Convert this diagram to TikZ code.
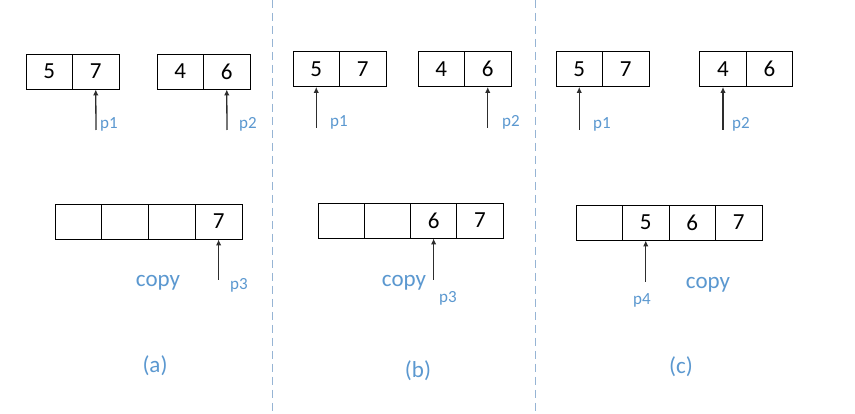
\documentclass[tikz,border=0pt]{standalone}
\usepackage{fontspec}
\setmainfont{Carlito}
\usetikzlibrary{arrows.meta}
\definecolor{lblue}{RGB}{91,152,208}
\definecolor{dashc}{RGB}{150,180,212}
\definecolor{arrc}{RGB}{45,45,45}
\tikzset{
  cell/.style={draw=black, line width=0.9pt, minimum width=46.5pt, minimum height=35pt, inner sep=0pt, font=\fontsize{23}{23}\selectfont},
  ptr/.style={draw=arrc, line width=1.3pt, -{Latex[length=6pt,width=5.5pt]}},
  plabel/.style={text=lblue, inner sep=0pt, font=\fontsize{17}{17}\selectfont},
  copylabel/.style={text=lblue, inner sep=0pt, font=\fontsize{23}{23}\selectfont},
  caption/.style={text=lblue, inner sep=0pt, font=\fontsize{23}{23}\selectfont},
  sep/.style={draw=dashc, line width=0.9pt, dash pattern=on 8pt off 5pt}
}
\begin{document}
\begin{tikzpicture}[x=1pt,y=-1pt]
\fill[white] (0,0) rectangle (855,414);
\useasboundingbox (0,0) rectangle (855,414);
% separators
\coordinate (s1t) at (272,0); \coordinate (s1b) at (272,414);
\coordinate (s2t) at (535,0); \coordinate (s2b) at (535,414);
\draw[sep] (s1t) -- (s1b);
\draw[sep] (s2t) -- (s2b);

% ===== panel (a)
\node[cell] (a11) at (49.25,71.5) {5};
\node[cell] (a12) at (95.75,71.5) {7};
\node[cell] (a21) at (180.25,71.5) {4};
\node[cell] (a22) at (226.75,71.5) {6};
\coordinate (ap1) at (96,130);
\coordinate (ap2) at (227,130);
\draw[ptr] (ap1) -- (a12.south);
\draw[ptr] (ap2) -- (a22.south);
\node[plabel, anchor=west] (alp1) at (100,124) {p1};
\node[plabel, anchor=west] (alp2) at (239,124) {p2};
\node[cell, minimum width=46.75pt] (a31) at (78.4,221.5) {};
\node[cell, minimum width=46.75pt] (a32) at (125.1,221.5) {};
\node[cell, minimum width=46.75pt] (a33) at (171.9,221.5) {};
\node[cell, minimum width=46.75pt] (a34) at (218.6,221.5) {7};
\coordinate (ap3) at (218.6,280);
\draw[ptr] (ap3) -- (a34.south);
\node[plabel, anchor=west] (alp3) at (230,285) {p3};
\node[copylabel] (acopy) at (158,283) {copy};
\node[caption] (capa) at (155,366) {(a)};

% ===== panel (b)
\node[cell] (b11) at (316.25,69) {5};
\node[cell] (b12) at (362.75,69) {7};
\node[cell] (b21) at (441.25,69) {4};
\node[cell] (b22) at (487.75,69) {6};
\coordinate (bp1) at (316.25,128);
\coordinate (bp2) at (487.75,128);
\draw[ptr] (bp1) -- (b11.south);
\draw[ptr] (bp2) -- (b22.south);
\node[plabel, anchor=west] (blp1) at (330,122) {p1};
\node[plabel, anchor=west] (blp2) at (502,122) {p2};
\node[cell, minimum width=46.25pt] (b31) at (341.1,220.5) {};
\node[cell, minimum width=46.25pt] (b32) at (387.4,220.5) {};
\node[cell, minimum width=46.25pt] (b33) at (433.6,220.5) {6};
\node[cell, minimum width=46.25pt] (b34) at (479.9,220.5) {7};
\coordinate (bp3) at (433.6,280);
\draw[ptr] (bp3) -- (b33.south);
\node[plabel, anchor=west] (blp3) at (439,298) {p3};
\node[copylabel] (bcopy) at (404,283) {copy};
\node[caption] (capb) at (418,371) {(b)};

% ===== panel (c)
\node[cell] (c11) at (579.25,69) {5};
\node[cell] (c12) at (625.75,69) {7};
\node[cell] (c21) at (723,69) {4};
\node[cell] (c22) at (769.5,69) {6};
\coordinate (cp1) at (579.25,130);
\coordinate (cp2) at (723,130);
\draw[ptr] (cp1) -- (c11.south);
\draw[ptr] (cp2) -- (c21.south);
\node[plabel, anchor=west] (clp1) at (593,124) {p1};
\node[plabel, anchor=west] (clp2) at (732,124) {p2};
\node[cell] (c31) at (599.25,222.5) {};
\node[cell] (c32) at (645.75,222.5) {5};
\node[cell] (c33) at (692.25,222.5) {6};
\node[cell] (c34) at (738.75,222.5) {7};
\coordinate (cp4) at (645.75,282);
\draw[ptr] (cp4) -- (c32.south);
\node[plabel] (clp4) at (642,300) {p4};
\node[copylabel] (ccopy) at (708,285) {copy};
\node[caption] (capc) at (681,367) {(c)};
\end{tikzpicture}
\end{document}
